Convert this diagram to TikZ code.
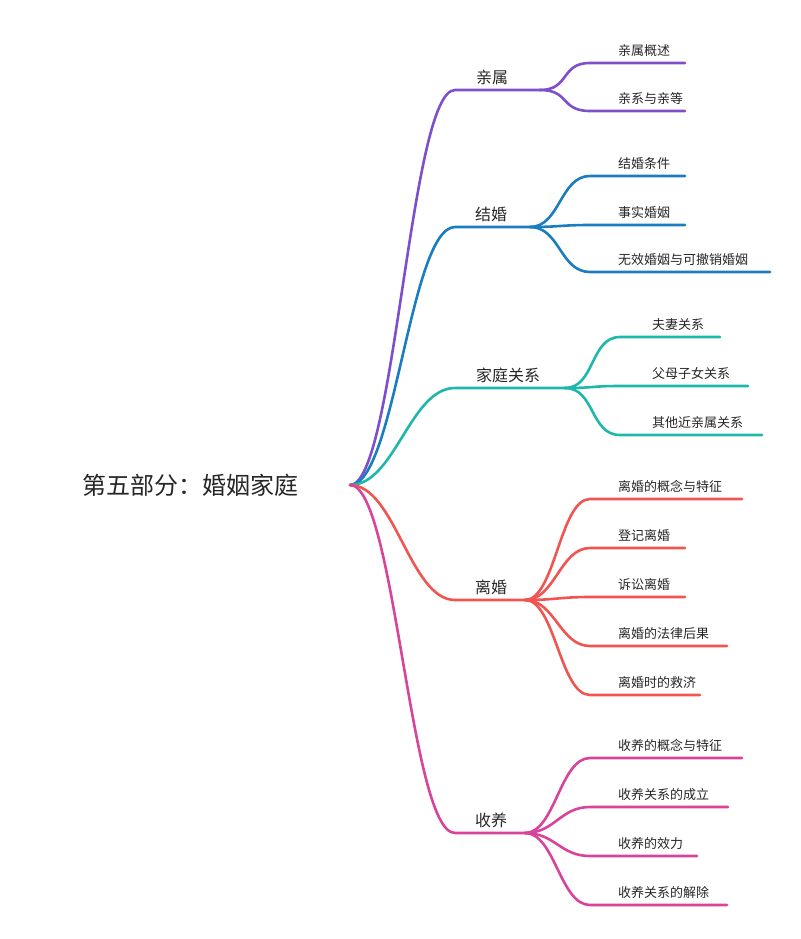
\documentclass[tikz,border=0pt]{standalone}
\usepackage{fontspec}
\setmainfont{Noto Sans CJK SC}
\definecolor{cA}{HTML}{7E4FCB}
\definecolor{cB}{HTML}{1A7DBF}
\definecolor{cC}{HTML}{1DB8AA}
\definecolor{cD}{HTML}{F05552}
\definecolor{cE}{HTML}{D9449B}
\begin{document}
\begin{tikzpicture}[x=1pt,y=-1pt,
  br/.style={line width=2.6pt,line cap=round},
  lone/.style={font=\fontsize{16}{18}\selectfont,anchor=south,inner sep=1pt,text=black!85},
  ltwo/.style={font=\fontsize{13}{15}\selectfont,anchor=south west,inner sep=1pt,text=black!85}]
\useasboundingbox (0,0) rectangle (800,939);
\node[font=\fontsize{24}{28}\selectfont,text=black!85] (root) at (190,485) {第五部分：婚姻家庭};
\coordinate (r) at (350,485);
% level-1: name, color, y, x0, x1, label x
\foreach \n/\c/\y/\xe/\lx/\lab in {a/cA/90/540/492/亲属,b/cB/227/530/491/结婚,c/cC/388/565/508/家庭关系,d/cD/600/525/491/离婚,e/cE/833/525/491/收养}{
  \coordinate (\n s) at (455,\y);
  \coordinate (\n e) at (\xe,\y);
  \draw[br,\c] (r) .. controls (395,485) and (410,\y) .. (\n s) -- (\n e);
  \node[lone] (\n l) at (\lx,\y-4) {\lab};
}
% level-2
\foreach \p/\c/\y/\xs/\xe/\lx/\lab in {
 a/cA/63/590/685/617/亲属概述, a/cA/111/590/685/617/亲系与亲等,
 b/cB/176/590/685/617/结婚条件, b/cB/225/590/685/617/事实婚姻, b/cB/272/590/770/617/无效婚姻与可撤销婚姻,
 c/cC/337/620/720/651/夫妻关系, c/cC/386/620/748/651/父母子女关系, c/cC/435/620/762/651/其他近亲属关系,
 d/cD/499/590/742/617/离婚的概念与特征, d/cD/548/590/685/617/登记离婚, d/cD/597/590/685/617/诉讼离婚, d/cD/646/590/727/617/离婚的法律后果, d/cD/695/590/700/617/离婚时的救济,
 e/cE/758/590/742/617/收养的概念与特征, e/cE/807/590/728/617/收养关系的成立, e/cE/856/590/697/617/收养的效力, e/cE/905/590/727/617/收养关系的解除}{
  \coordinate (q\y s) at (\xs,\y);
  \coordinate (q\y e) at (\xe,\y);
  \path (\p e) coordinate (pp);
  \draw[br,\c] (\p e) .. controls ([xshift=30]pp) and ([xshift=-30]q\y s) .. (q\y s) -- (q\y e);
  \node[ltwo] (t\y) at (\lx,\y-5) {\lab};
}
\end{tikzpicture}
\end{document}
